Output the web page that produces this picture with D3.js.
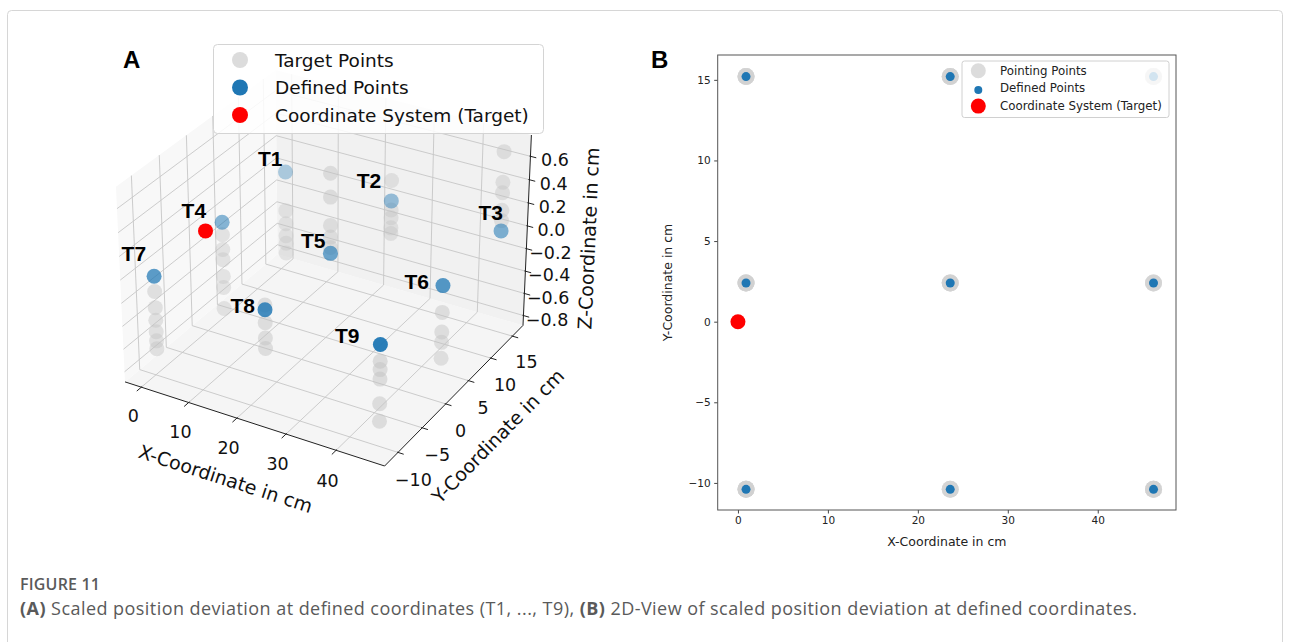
<!DOCTYPE html>
<html>
<head>
<meta charset="utf-8">
<script src="https://cdn.jsdelivr.net/npm/d3@7"></script>
<style>
  body { margin: 0; background: #fff; }
  svg { display: block; font-family: "DejaVu Sans", sans-serif; }
</style>
</head>
<body>
<svg id="chart" width="1290" height="642"></svg>
<script>
// Defined target positions (cm)
const pointNames = ['T1', 'T2', 'T3', 'T4', 'T5', 'T6', 'T7', 'T8', 'T9'];
const pointX = [0.9, 23.6, 46.2, 0.9, 23.6, 46.2, 0.9, 23.6, 46.2];
const pointY = [15.2, 15.2, 15.2, 2.4, 2.4, 2.4, -10.4, -10.4, -10.4];
const definedZ = [0, 0, 0, 0, 0, 0, 0, 0, 0];

// Scaled z deviation of the pointing (target) points at each position
const targetZ = [
    [-0.35, -0.47, -0.58, -0.65, -0.74],
    [0.18, -0.08, -0.15, -0.24, -0.29],
    [0.68, 0.42, 0.33, 0.18, 0.09],
    [-0.11, -0.24, -0.33, -0.48, -0.58, -0.77],
    [0.68, 0.48, 0.24, 0.14, 0.05],
    [-0.23, -0.40, -0.49, -0.63],
    [-0.13, -0.27, -0.38, -0.48, -0.56, -0.63],
    [0.04, -0.11, -0.24, -0.33],
    [-0.14, -0.21, -0.29, -0.50, -0.65]
];

// Coordinate system origin
const originPoint = [0, 0, 0];

// Tick labels
const xTicks3d = [0, 10, 20, 30, 40];
const yTicks3d = [-10, -5, 0, 5, 10, 15];
const zTicks3d = [-0.8, -0.6, -0.4, -0.2, 0.0, 0.2, 0.4, 0.6];
const xTicks2d = [0, 10, 20, 30, 40];
const yTicks2d = [-10, -5, 0, 5, 10, 15];

const svg = d3.select('#chart');

// card frame + caption
svg.append('rect')
    .attr('x', 7.5).attr('y', 10.5)
    .attr('width', 1275).attr('height', 660)
    .attr('rx', 4)
    .attr('fill', 'none')
    .attr('stroke', '#d6d6d6');

svg.append('text')
    .attr('x', 20).attr('y', 590)
    .attr('font-family', '"Open Sans", sans-serif')
    .attr('font-size', 16).attr('font-weight', 600)
    .attr('fill', '#5a5a5a')
    .attr('textLength', 80)
    .text('FIGURE 11');

const caption = svg.append('text')
    .attr('x', 20).attr('y', 615)
    .attr('font-family', '"Open Sans", sans-serif')
    .attr('font-size', 18)
    .attr('fill', '#5a5a5a')
    .attr('textLength', 1117)
    .attr('lengthAdjust', 'spacing');
caption.append('tspan').attr('font-weight', 700).text('(A)');
caption.append('tspan').text(' Scaled position deviation at defined coordinates (T1, ..., T9), ');
caption.append('tspan').attr('font-weight', 700).text('(B)');
caption.append('tspan').text(' 2D-View of scaled position deviation at defined coordinates.');

// ---------------- Panel A: 3D view ----------------
const xBox = [-3.5, 49.5];
const yBox = [-12.7, 17.5];
const zBox = [-0.89, 0.78];

const deg = Math.PI / 180;
const elev = 30 * deg, azim = -60 * deg, camDist = 10;
const boxAspect = [4, 4, 3].map(v => v * 1.8294640721620434 / Math.hypot(4, 4, 3));
const viewDir = [Math.cos(elev) * Math.cos(azim), Math.cos(elev) * Math.sin(azim), Math.sin(elev)];
const center = boxAspect.map(b => b / 2);
const eye = center.map((c, i) => c + camDist * viewDir[i]);

const cross = (a, b) => [a[1] * b[2] - a[2] * b[1], a[2] * b[0] - a[0] * b[2], a[0] * b[1] - a[1] * b[0]];
const dot = (a, b) => a[0] * b[0] + a[1] * b[1] + a[2] * b[2];
const unit = a => { const l = Math.hypot(...a); return a.map(v => v / l); };
const camRight = unit(cross([0, 0, 1], viewDir));
const camUp = cross(viewDir, camRight);

const nx = d3.scaleLinear().domain(xBox).range([0, boxAspect[0]]);
const ny = d3.scaleLinear().domain(yBox).range([0, boxAspect[1]]);
const nz = d3.scaleLinear().domain(zBox).range([0, boxAspect[2]]);

function rawProj(x, y, z) {
    const d = [nx(x) - eye[0], ny(y) - eye[1], nz(z) - eye[2]];
    const depth = -dot(d, viewDir);
    return [dot(d, camRight) / depth, dot(d, camUp) / depth, depth];
}

// fit projected box into the panel
const sx = d3.scaleLinear()
    .domain([rawProj(xBox[0], yBox[0], zBox[0])[0], rawProj(xBox[1], yBox[1], zBox[0])[0]])
    .range([125, 523]);
const sy = d3.scaleLinear()
    .domain([rawProj(xBox[1], yBox[0], zBox[0])[1], rawProj(xBox[1], yBox[1], zBox[1])[1]])
    .range([466, 135]);

function proj(x, y, z) {
    const r = rawProj(x, y, z);
    return [sx(r[0]), sy(r[1]), r[2]];
}

const gA = svg.append('g');
const line = d3.line();

// panes
const panes = [
    { pts: [[xBox[0], yBox[0], zBox[0]], [xBox[1], yBox[0], zBox[0]], [xBox[1], yBox[1], zBox[0]], [xBox[0], yBox[1], zBox[0]]], fill: '#f5f5f5' },
    { pts: [[xBox[0], yBox[1], zBox[0]], [xBox[1], yBox[1], zBox[0]], [xBox[1], yBox[1], zBox[1]], [xBox[0], yBox[1], zBox[1]]], fill: '#f1f1f1' },
    { pts: [[xBox[0], yBox[0], zBox[0]], [xBox[0], yBox[1], zBox[0]], [xBox[0], yBox[1], zBox[1]], [xBox[0], yBox[0], zBox[1]]], fill: '#f8f8f8' }
];
gA.selectAll('.pane')
    .data(panes)
    .enter()
    .append('path')
    .attr('class', 'pane')
    .attr('d', d => line(d.pts.map(p => proj(...p).slice(0, 2))) + 'Z')
    .attr('fill', d => d.fill);

// grid lines
const gridSegs = [];
xTicks3d.forEach(t => {
    gridSegs.push([[t, yBox[0], zBox[0]], [t, yBox[1], zBox[0]]]);
    gridSegs.push([[t, yBox[1], zBox[0]], [t, yBox[1], zBox[1]]]);
});
yTicks3d.forEach(t => {
    gridSegs.push([[xBox[0], t, zBox[0]], [xBox[1], t, zBox[0]]]);
    gridSegs.push([[xBox[0], t, zBox[0]], [xBox[0], t, zBox[1]]]);
});
zTicks3d.forEach(t => {
    gridSegs.push([[xBox[0], yBox[1], t], [xBox[1], yBox[1], t]]);
    gridSegs.push([[xBox[0], yBox[0], t], [xBox[0], yBox[1], t]]);
});
gA.selectAll('.grid')
    .data(gridSegs)
    .enter()
    .append('path')
    .attr('class', 'grid')
    .attr('d', d => line(d.map(p => proj(...p).slice(0, 2))))
    .attr('stroke', '#c6c6c6')
    .attr('stroke-width', 0.9)
    .attr('fill', 'none');

// axis lines
const axisSegs = [
    [[xBox[0], yBox[0], zBox[0]], [xBox[1], yBox[0], zBox[0]]],
    [[xBox[1], yBox[0], zBox[0]], [xBox[1], yBox[1], zBox[0]]],
    [[xBox[1], yBox[1], zBox[0]], [xBox[1], yBox[1], zBox[1]]]
];
gA.selectAll('.axis3d')
    .data(axisSegs)
    .enter()
    .append('path')
    .attr('class', 'axis3d')
    .attr('d', d => line(d.map(p => proj(...p).slice(0, 2))))
    .attr('stroke', '#222')
    .attr('stroke-width', 1)
    .attr('fill', 'none');

const xr = xBox[1] - xBox[0], yr = yBox[1] - yBox[0], zr = zBox[1] - zBox[0];
const fmt3d = d3.format('.1f');

function tickMark(p, q) {
    const a = proj(...p), b = proj(...q);
    const dx = b[0] - a[0], dy = b[1] - a[1], l = Math.hypot(dx, dy);
    return line([[a[0] - dx / l, a[1] - dy / l], [a[0] + 6 * dx / l, a[1] + 6 * dy / l]]);
}

const tickG = gA.append('g').attr('stroke', '#222').attr('stroke-width', 1);
const tickText = gA.append('g')
    .attr('font-size', 17.5)
    .attr('fill', '#111')
    .attr('text-anchor', 'middle')
    .attr('dominant-baseline', 'central');

xTicks3d.forEach(t => {
    tickG.append('path').attr('d', tickMark([t, yBox[0], zBox[0]], [t, yBox[0] - 1, zBox[0]]));
    const p = proj(t, yBox[0] - 0.055 * yr, zBox[0] - 0.115 * zr);
    tickText.append('text').attr('x', p[0]).attr('y', p[1]).text(t);
});
yTicks3d.forEach(t => {
    tickG.append('path').attr('d', tickMark([xBox[1], t, zBox[0]], [xBox[1] + 1, t, zBox[0]]));
    const p = proj(xBox[1] + 0.058 * xr, t, zBox[0] - 0.12 * zr);
    tickText.append('text').attr('x', p[0]).attr('y', p[1]).text(d3.format('')(t));
});
zTicks3d.forEach(t => {
    tickG.append('path').attr('d', tickMark([xBox[1], yBox[1], t], [xBox[1] + 1, yBox[1], t]));
    const p = proj(xBox[1] + 0.084 * xr, yBox[1] + 0.015 * yr, t);
    tickText.append('text').attr('x', p[0]).attr('y', p[1]).text(fmt3d(t));
});

// axis labels rotated along each axis
function axisAngle(p, q) {
    const a = proj(...p), b = proj(...q);
    return Math.atan2(b[1] - a[1], b[0] - a[0]) / deg;
}
const axisLabels = [
    { text: 'X-Coordinate in cm', pos: [(xBox[0] + xBox[1]) / 2, yBox[0] - 0.165 * yr, zBox[0] - 0.165 * zr],
      ang: axisAngle([xBox[0], yBox[0], zBox[0]], [xBox[1], yBox[0], zBox[0]]) },
    { text: 'Y-Coordinate in cm', pos: [xBox[1] + 0.158 * xr, (yBox[0] + yBox[1]) / 2, zBox[0] - 0.162 * zr],
      ang: axisAngle([xBox[1], yBox[0], zBox[0]], [xBox[1], yBox[1], zBox[0]]) },
    { text: 'Z-Coordinate in cm', pos: [xBox[1] + 0.2 * xr, yBox[1] + 0.065 * yr, (zBox[0] + zBox[1]) / 2],
      ang: axisAngle([xBox[1], yBox[1], zBox[0]], [xBox[1], yBox[1], zBox[1]]) }
];
axisLabels.forEach(d => {
    const p = proj(...d.pos);
    gA.append('text')
        .attr('transform', `translate(${p[0]},${p[1]}) rotate(${d.ang})`)
        .attr('text-anchor', 'middle')
        .attr('dominant-baseline', 'central')
        .attr('font-size', 19)
        .attr('fill', '#111')
        .text(d.text);
});

// points with depth shading
const targets3d = [];
targetZ.forEach((zs, i) => zs.forEach(z => targets3d.push({ x: pointX[i], y: pointY[i], z })));
const defined3d = pointNames.map((name, i) => ({ name, x: pointX[i], y: pointY[i], z: definedZ[i] }));

function drawScatter(data, cls, color, r, baseAlpha, shade) {
    data.forEach(d => { const p = proj(d.x, d.y, d.z); d.sx = p[0]; d.sy = p[1]; d.depth = p[2]; });
    const ext = d3.extent(data, d => d.depth);
    const alpha = d3.scaleLinear().domain(ext).range([baseAlpha, baseAlpha * (1 - shade)]);
    data.sort((a, b) => b.depth - a.depth);
    gA.selectAll('.' + cls)
        .data(data)
        .enter()
        .append('circle')
        .attr('class', cls)
        .attr('cx', d => d.sx)
        .attr('cy', d => d.sy)
        .attr('r', r)
        .attr('fill', color)
        .attr('fill-opacity', d => alpha(d.depth));
}
drawScatter(targets3d, 'target', '#c2c2c2', 7.5, 0.5, 0.3);
drawScatter(defined3d, 'defined', '#1f77b4', 7.5, 0.95, 0.65);

const op = proj(...originPoint);
gA.append('circle').attr('cx', op[0]).attr('cy', op[1]).attr('r', 7.5).attr('fill', '#ff0000');

// point labels
const labelNudge = {
    T1: [-3, -6], T2: [-10, -13], T3: [2, -11], T4: [-16, -4], T5: [-5, -5],
    T6: [-14, 3], T7: [-8, -15], T8: [-10, 3], T9: [-21, -1]
};
gA.selectAll('.tlabel')
    .data(defined3d)
    .enter()
    .append('text')
    .attr('class', 'tlabel')
    .attr('x', d => d.sx + labelNudge[d.name][0])
    .attr('y', d => d.sy + labelNudge[d.name][1])
    .attr('text-anchor', 'end')
    .attr('font-family', '"Liberation Sans", Arial, sans-serif')
    .attr('font-weight', 700)
    .attr('font-size', 21)
    .attr('fill', '#000')
    .text(d => d.name);

// legend A
const legA = gA.append('g');
legA.append('rect')
    .attr('x', 213.5).attr('y', 44.5).attr('width', 330).attr('height', 89)
    .attr('rx', 4)
    .attr('fill', '#fff').attr('fill-opacity', 0.85)
    .attr('stroke', '#d4d4d4');
const legAItems = [
    { label: 'Target Points', color: '#dcdcdc' },
    { label: 'Defined Points', color: '#1f77b4' },
    { label: 'Coordinate System (Target)', color: '#ff0000' }
];
legA.selectAll('.legA')
    .data(legAItems)
    .enter()
    .append('g')
    .attr('class', 'legA')
    .attr('transform', (d, i) => `translate(240,${60 + i * 27.5})`)
    .each(function(d) {
        const g = d3.select(this);
        g.append('circle').attr('r', 8).attr('fill', d.color);
        g.append('text')
            .attr('x', 35)
            .attr('dominant-baseline', 'central')
            .attr('font-size', 18.5)
            .attr('fill', '#111')
            .text(d.label);
    });

svg.append('text')
    .attr('x', 123).attr('y', 68)
    .attr('font-family', '"Liberation Sans", Arial, sans-serif')
    .attr('font-weight', 700).attr('font-size', 24)
    .text('A');

// ---------------- Panel B: 2D view ----------------
const bx = d3.scaleLinear().domain([-2.25, 48.7]).range([717.7, 1176]);
const by = d3.scaleLinear().domain([-11.68, 16.54]).range([510, 55]);

const gB = svg.append('g');

gB.append('g')
    .attr('transform', 'translate(0,510)')
    .call(d3.axisBottom(bx).tickValues(xTicks2d).tickSize(3.5).tickPadding(3.5).tickFormat(d3.format('')))
    .call(g => g.select('.domain').remove());
gB.append('g')
    .attr('transform', 'translate(717.7,0)')
    .call(d3.axisLeft(by).tickValues(yTicks2d).tickSize(3.5).tickPadding(3.5).tickFormat(d3.format('')))
    .call(g => g.select('.domain').remove());
gB.selectAll('.tick text')
    .attr('font-family', '"DejaVu Sans", sans-serif')
    .attr('font-size', 10.5)
    .attr('fill', '#222');
gB.selectAll('.tick line').attr('stroke', '#444');

gB.append('rect')
    .attr('x', 717.7).attr('y', 55)
    .attr('width', 1176 - 717.7).attr('height', 455)
    .attr('fill', 'none')
    .attr('stroke', '#555')
    .attr('stroke-width', 1);

gB.append('text')
    .attr('x', (717.7 + 1176) / 2).attr('y', 546)
    .attr('text-anchor', 'middle')
    .attr('font-size', 12.5).attr('fill', '#222')
    .text('X-Coordinate in cm');
gB.append('text')
    .attr('transform', `translate(672,${(55 + 510) / 2}) rotate(-90)`)
    .attr('text-anchor', 'middle')
    .attr('font-size', 12.5).attr('fill', '#222')
    .text('Y-Coordinate in cm');

gB.selectAll('.pt2')
    .data(targets3d)
    .enter()
    .append('circle')
    .attr('class', 'pt2')
    .attr('cx', d => bx(d.x))
    .attr('cy', d => by(d.y))
    .attr('r', 8.5)
    .attr('fill', '#d0d0d0')
    .attr('fill-opacity', 0.45);

gB.selectAll('.def2')
    .data(defined3d)
    .enter()
    .append('circle')
    .attr('class', 'def2')
    .attr('cx', d => bx(d.x))
    .attr('cy', d => by(d.y))
    .attr('r', 4.5)
    .attr('fill', '#1f77b4');

gB.append('circle')
    .attr('cx', bx(originPoint[0])).attr('cy', by(originPoint[1]))
    .attr('r', 7.5).attr('fill', '#ff0000');

// legend B
const legB = gB.append('g');
legB.append('rect')
    .attr('x', 962).attr('y', 61).attr('width', 207).attr('height', 56.5)
    .attr('rx', 2.5)
    .attr('fill', '#fff').attr('fill-opacity', 0.8)
    .attr('stroke', '#d0d0d0');
const legBItems = [
    { label: 'Pointing Points', color: '#dcdcdc', r: 7.5 },
    { label: 'Defined Points', color: '#1f77b4', r: 4 },
    { label: 'Coordinate System (Target)', color: '#ff0000', r: 7.5 }
];
legB.selectAll('.legB')
    .data(legBItems)
    .enter()
    .append('g')
    .attr('class', 'legB')
    .attr('transform', (d, i) => `translate(978.3,${70.7 + i * 17.7})`)
    .each(function(d) {
        const g = d3.select(this);
        g.append('circle').attr('cy', d.r < 5 ? 1.5 : 0).attr('r', d.r).attr('fill', d.color);
        g.append('text')
            .attr('x', 21.7)
            .attr('dominant-baseline', 'central')
            .attr('font-size', 11.8)
            .attr('fill', '#222')
            .text(d.label);
    });

svg.append('text')
    .attr('x', 651).attr('y', 68)
    .attr('font-family', '"Liberation Sans", Arial, sans-serif')
    .attr('font-weight', 700).attr('font-size', 24)
    .text('B');
</script>
</body>
</html>
